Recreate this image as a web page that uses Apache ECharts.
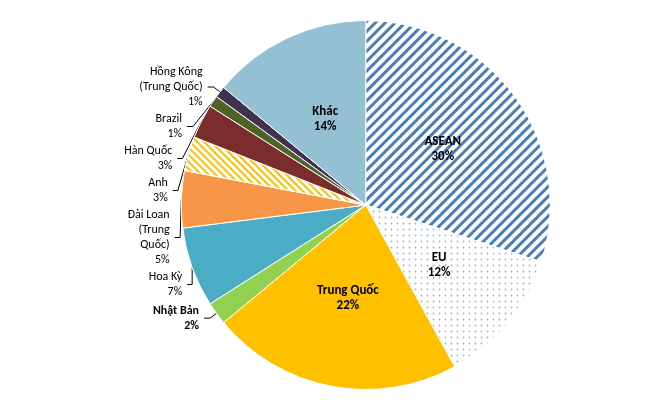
<!DOCTYPE html>
<html>
<head>
<meta charset="utf-8">
<script src="https://cdn.jsdelivr.net/npm/echarts@6/dist/echarts.min.js"></script>
<style>html,body{margin:0;background:#fff}#chart{width:665px;height:410px}</style>
</head>
<body>
<div id="chart"></div>
<script>
// thị phần theo thị trường
var names = ['ASEAN', 'EU', 'Trung Quốc', 'Nhật Bản', 'Hoa Kỳ', 'Đài Loan\n(Trung\nQuốc)', 'Anh', 'Hàn Quốc', 'Brazil', 'Hồng Kông\n(Trung Quốc)', 'Khác'];
var values = [30, 12, 22, 2, 7, 5, 3, 3, 1, 1, 14];
var colors = ['#4a7ebb', '#c5d9f1', '#ffc000', '#92d050', '#4bacc6', '#f79646', '#fac090', '#7b2c2c', '#4f6228', '#403151', '#93c0d3'];
var inside = ['ASEAN', 'EU', 'Trung Quốc', 'Khác'];

var chart = echarts.init(document.getElementById('chart'));
var data = [];
for (var i = 0; i < names.length; i++) {
    var item = { name: names[i], value: values[i], itemStyle: { color: colors[i] } };
    if (names[i] == 'ASEAN') {
        item.itemStyle = { color: '#ffffff', decal: { symbol: 'rect', dashArrayX: [1, 0], dashArrayY: [3, 4], rotation: -Math.PI / 4, color: '#4a7ebb' } };
    }
    if (names[i] == 'EU') {
        item.itemStyle = { color: '#ffffff', decal: { symbol: 'circle', symbolSize: 0.6, dashArrayX: [[3, 3]], dashArrayY: [3], color: '#95b3d7' } };
    }
    if (names[i] == 'Anh') {
        item.itemStyle = { color: '#ffffff', decal: { symbol: 'rect', dashArrayX: [1, 0], dashArrayY: [2, 3], rotation: Math.PI / 4, color: '#fac000' } };
    }
    if (inside.indexOf(names[i]) >= 0) {
        item.label = { position: 'inside', fontWeight: 'bold', fontSize: 13, color: '#000' };
    }
    if (names[i] == 'Nhật Bản') {
        item.label = { fontWeight: 'bold' };
    }
    data.push(item);
}

chart.setOption({
    aria: { enabled: true, decal: { show: false } },
    series: [{
        type: 'pie',
        center: ['55%', '50%'],
        radius: '90%',
        startAngle: 90,
        data: data,
        itemStyle: { borderColor: '#fff', borderWidth: 1 },
        label: {
            formatter: '{b}\n{c}%',
            fontFamily: 'Calibri, Carlito, Liberation Sans, sans-serif',
            fontSize: 12,
            color: '#000',
            lineHeight: 15
        },
        labelLine: { length: 8, length2: 6, lineStyle: { color: '#000' } }
    }]
});
</script>
</body>
</html>
